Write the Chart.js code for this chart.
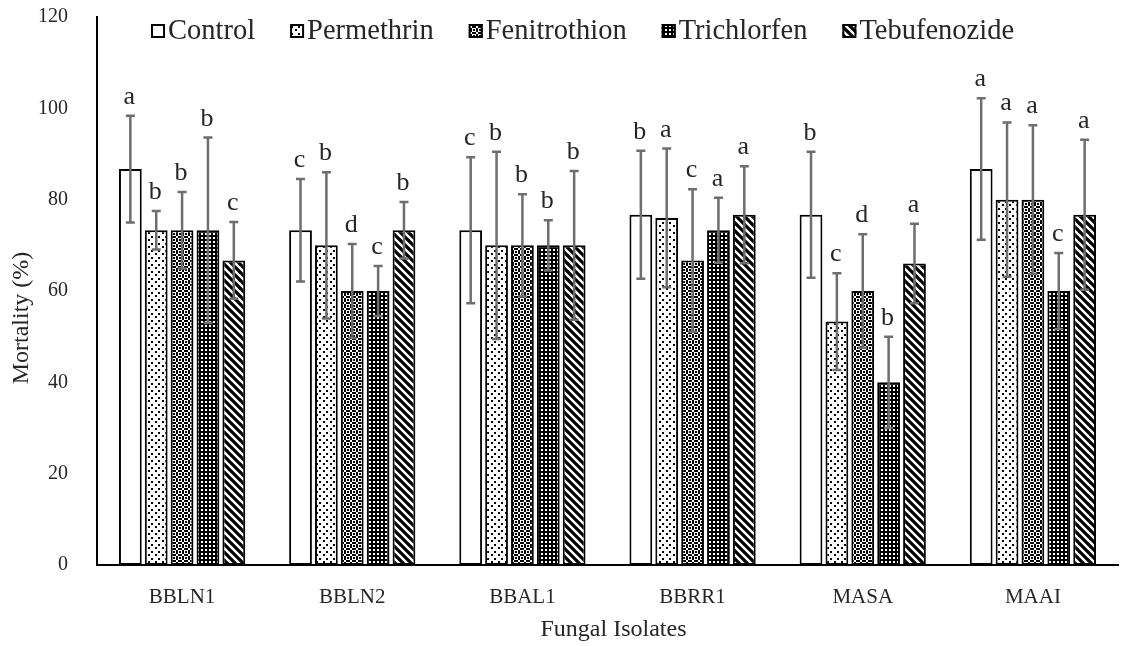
<!DOCTYPE html>
<html>
<head>
<meta charset="utf-8">
<script src="https://cdn.jsdelivr.net/npm/chart.js@4.4.1/dist/chart.umd.min.js"></script>
<style>
  html, body { margin: 0; padding: 0; background: #ffffff; }
  #wrap { width: 1131px; height: 646px; position: relative; }
</style>
</head>
<body>
<div id="wrap"><canvas id="c" width="1131" height="646"></canvas></div>
<script>
// ---- Data ----
const categories = ['BBLN1', 'BBLN2', 'BBAL1', 'BBRR1', 'MASA', 'MAAI'];
const seriesNames = ['Control', 'Permethrin', 'Fenitrothion', 'Trichlorfen', 'Tebufenozide'];

const controlVals      = [86.7, 73.3, 73.3, 76.7, 76.7, 86.7];
const permethrinVals   = [73.3, 70.0, 70.0, 76.0, 53.3, 80.0];
const fenitrothionVals = [73.3, 60.0, 70.0, 66.7, 60.0, 80.0];
const trichlorfenVals  = [73.3, 60.0, 70.0, 73.3, 40.0, 60.0];
const tebufenozideVals = [66.7, 73.3, 70.0, 76.7, 66.0, 76.7];

const controlSD      = [11.7, 11.2, 16.0, 14.0, 13.8, 15.5];
const permethrinSD   = [4.2, 16.0, 20.5, 15.2, 10.6, 16.9];
const fenitrothionSD = [8.4, 10.3, 11.2, 15.6, 12.4, 16.3];
const trichlorfenSD  = [20.3, 5.5, 5.5, 7.1, 10.0, 8.3];
const tebufenozideSD = [8.4, 6.2, 16.3, 10.6, 8.7, 16.4];

const controlLetters      = ['a', 'c', 'c', 'b', 'b', 'a'];
const permethrinLetters   = ['b', 'b', 'b', 'a', 'c', 'a'];
const fenitrothionLetters = ['b', 'd', 'b', 'c', 'd', 'a'];
const trichlorfenLetters  = ['b', 'c', 'b', 'a', 'b', 'c'];
const tebufenozideLetters = ['c', 'b', 'b', 'a', 'a', 'a'];

const yTicks = [0, 20, 40, 60, 80, 100, 120];
const xTitle = 'Fungal Isolates';
const yTitle = 'Mortality (%)';

const allVals = [controlVals, permethrinVals, fenitrothionVals, trichlorfenVals, tebufenozideVals];
const allSD = [controlSD, permethrinSD, fenitrothionSD, trichlorfenSD, tebufenozideSD];
const allLetters = [controlLetters, permethrinLetters, fenitrothionLetters, trichlorfenLetters, tebufenozideLetters];

// ---- Patterns ----
function makePattern(size, drawFn) {
  const cv = document.createElement('canvas');
  cv.width = size; cv.height = size;
  const g = cv.getContext('2d');
  g.fillStyle = '#ffffff';
  g.fillRect(0, 0, size, size);
  drawFn(g, size);
  return document.getElementById('c').getContext('2d').createPattern(cv, 'repeat');
}
function fromMap(map) {
  return (g) => {
    g.fillStyle = '#000000';
    map.forEach((row, y) => { for (let x = 0; x < row.length; x++) if (row[x] === 'X') g.fillRect(x, y, 1, 1); });
  };
}
const patControl = '#ffffff';
const patPermethrin = makePattern(7, fromMap([
  '.......',
  '.XX....',
  '.XX....',
  '.......',
  '.......',
  '....XX.',
  '....XX.'
]));
const patFenitrothion = makePattern(6, fromMap([
  'X.XX.X',
  '..XX..',
  'XX..XX',
  'XX..XX',
  '..XX..',
  'X.XX.X'
]));
const patTrichlorfen = makePattern(4, fromMap([
  'XXXX',
  'X..X',
  'X..X',
  'XXXX'
]));
const patTebufenozide = makePattern(8, (g, s) => {
  g.strokeStyle = '#000000';
  g.lineWidth = 3.2;
  g.beginPath();
  for (let k = -1; k <= 1; k++) {
    g.moveTo(k * s - 1, -1);
    g.lineTo(k * s + s + 1, s + 1);
  }
  g.stroke();
});
const patterns = [patControl, patPermethrin, patFenitrothion, patTrichlorfen, patTebufenozide];

const SERIF = "'Liberation Serif', 'Times New Roman', serif";
const TEXT = '#262626';

const datasets = seriesNames.map((name, i) => ({
  label: name,
  data: allVals[i],
  backgroundColor: patterns[i],
  borderColor: '#000000',
  borderWidth: 2,
  borderSkipped: false,
  categoryPercentage: 0.76,
  barPercentage: 0.88
}));

// ---- Plugin: error bars, letters, legend, titles ----
const annotPlugin = {
  id: 'annot',
  afterDatasetsDraw(chart) {
    const ctx = chart.ctx;
    const ys = chart.scales.y;
    ctx.save();
    chart.data.datasets.forEach((ds, i) => {
      const meta = chart.getDatasetMeta(i);
      meta.data.forEach((bar, j) => {
        const v = allVals[i][j], sd = allSD[i][j];
        const yTop = ys.getPixelForValue(v + sd);
        const yBot = ys.getPixelForValue(v - sd);
        const x = bar.x;
        ctx.strokeStyle = '#6e6e6e';
        ctx.lineWidth = 2.5;
        ctx.beginPath();
        ctx.moveTo(x, yTop); ctx.lineTo(x, yBot);
        ctx.moveTo(x - 4.5, yTop); ctx.lineTo(x + 4.5, yTop);
        ctx.moveTo(x - 4.5, yBot); ctx.lineTo(x + 4.5, yBot);
        ctx.stroke();
        ctx.fillStyle = TEXT;
        ctx.font = '26px ' + SERIF;
        ctx.textAlign = 'center';
        ctx.textBaseline = 'alphabetic';
        ctx.fillText(allLetters[i][j], x - 1, yTop - 12);
      });
    });
    ctx.restore();
  },
  afterDraw(chart) {
    const ctx = chart.ctx;
    const ca = chart.chartArea;
    ctx.save();
    // Legend
    ctx.font = '28.5px ' + SERIF;
    ctx.textBaseline = 'alphabetic';
    ctx.textAlign = 'left';
    let x = 151;
    chart.data.datasets.forEach((ds, i) => {
      ctx.fillStyle = ds.backgroundColor;
      ctx.fillRect(x, 24, 14, 14);
      ctx.strokeStyle = '#000000';
      ctx.lineWidth = 2;
      ctx.strokeRect(x + 1, 25, 12, 12);
      ctx.fillStyle = TEXT;
      const tx = x + 17;
      ctx.fillText(ds.label, tx, 39);
      x = tx + ctx.measureText(ds.label).width + 35;
    });
    // Axis titles
    ctx.font = '24px ' + SERIF;
    ctx.fillStyle = TEXT;
    ctx.textAlign = 'center';
    ctx.textBaseline = 'middle';
    ctx.fillText(xTitle, (ca.left + ca.right) / 2 + 6, 630);
    ctx.translate(22, (ca.top + ca.bottom) / 2 + 27);
    ctx.rotate(-Math.PI / 2);
    ctx.fillText(yTitle, 0, 0);
    ctx.restore();
  }
};

new Chart(document.getElementById('c'), {
  type: 'bar',
  data: { labels: categories, datasets },
  options: {
    responsive: false,
    animation: false,
    devicePixelRatio: 1,
    layout: { padding: { top: 17, right: 13, left: 0, bottom: 0 } },
    plugins: { legend: { display: false }, tooltip: { enabled: false } },
    scales: {
      x: {
        grid: { display: false, drawTicks: false },
        border: { display: true, color: '#000000', width: 2 },
        ticks: { color: TEXT, font: { family: SERIF, size: 21 }, padding: 20 },
        afterFit: (s) => { s.height = 81; s.paddingLeft = 0; s.paddingRight = 0; }
      },
      y: {
        min: 0, max: 120,
        afterBuildTicks: (s) => { s.ticks = yTicks.map(v => ({ value: v })); },
        grid: { display: false, drawTicks: false },
        border: { display: true, color: '#000000', width: 2 },
        ticks: { color: TEXT, font: { family: SERIF, size: 20 }, padding: 29 },
        afterFit: (s) => { s.width = 97; s.paddingTop = 0; s.paddingBottom = 0; }
      }
    }
  },
  plugins: [annotPlugin]
});
</script>
</body>
</html>
